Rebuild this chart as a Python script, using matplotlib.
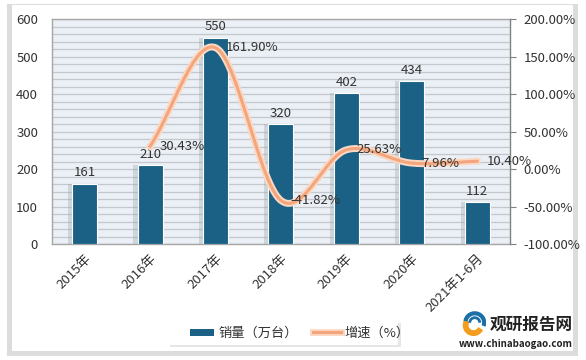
import matplotlib.pyplot as plt
import matplotlib.patheffects as pe
from matplotlib.patches import Rectangle, Wedge, Arc
import numpy as np

plt.rcParams['font.family'] = ['Noto Sans CJK SC', 'DejaVu Sans']

categories = ['2015年', '2016年', '2017年', '2018年', '2019年', '2020年', '2021年1-6月']
sales = [161, 210, 550, 320, 402, 434, 112]
growth = [None, 30.43, 161.90, -41.82, 25.63, 7.96, 10.40]
growth_labels = ['', '30.43%', '161.90%', '-41.82%', '25.63%', '7.96%', '10.40%']

bar_color = '#1b6185'
line_color = '#f3a57c'


def catmull_rom(xs, ys, n=30):
    # smooth curve through the points, like Excel's smoothed line
    xs = np.asarray(xs, float)
    ys = np.asarray(ys, float)
    px = np.concatenate([[2 * xs[0] - xs[1]], xs, [2 * xs[-1] - xs[-2]]])
    py = np.concatenate([[2 * ys[0] - ys[1]], ys, [2 * ys[-1] - ys[-2]]])
    outx, outy = [], []
    for i in range(1, len(px) - 2):
        t = np.linspace(0, 1, n)
        for arr, out in ((px, outx), (py, outy)):
            p0, p1, p2, p3 = arr[i - 1], arr[i], arr[i + 1], arr[i + 2]
            out.extend(0.5 * ((2 * p1) + (-p0 + p2) * t
                              + (2 * p0 - 5 * p1 + 4 * p2 - p3) * t ** 2
                              + (-p0 + 3 * p1 - 3 * p2 + p3) * t ** 3))
    return np.array(outx), np.array(outy)


fig = plt.figure(figsize=(5.86, 3.6), dpi=100)
fig.patch.set_facecolor('white')

# outer card with soft shadow
fig.patches.append(Rectangle((0.012, 0.01), 0.975, 0.978, transform=fig.transFigure,
                             facecolor='#dcdcdc', edgecolor='none', zorder=-2))
fig.patches.append(Rectangle((0.02, 0.025), 0.958, 0.96, transform=fig.transFigure,
                             facecolor='white', edgecolor='none', zorder=-1))

ax = fig.add_axes([0.0887, 0.322, 0.7813, 0.625])
ax.set_facecolor('#eaf0f6')
x = np.arange(len(categories))

bars = ax.bar(x, sales, width=0.38, color=bar_color, edgecolor='white', linewidth=0.8, zorder=3)
for b in bars:
    b.set_path_effects([pe.SimplePatchShadow(offset=(-3, 0), shadow_rgbFace='#9aa3ab', alpha=0.35),
                        pe.Normal()])
for xi, v in zip(x, sales):
    ax.text(xi, v + 12, str(v), ha='center', va='bottom', fontsize=9.5, color='#333333', zorder=5)

ax.set_ylim(0, 600)
ax.set_yticks(np.arange(0, 601, 100))
ax.set_yticks(np.arange(0, 601, 20), minor=True)
ax.grid(axis='y', which='both', color='#c4c8cc', linewidth=0.9, zorder=0)
ax.set_axisbelow(True)
ax.set_xlim(-0.5, len(categories) - 0.5)
ax.set_xticks(x)
ax.set_xticklabels(categories, rotation=45, ha='right', rotation_mode='anchor', fontsize=9.5, color='#333333')
ax.tick_params(axis='x', length=0, pad=6)
ax.tick_params(axis='y', which='both', length=0, labelsize=9.5, labelcolor='#333333', pad=10)
for s in ax.spines.values():
    s.set_color('#a6a6a6')
    s.set_linewidth(1)

ax2 = ax.twinx()
ax2.set_ylim(-100, 200)
ax2.set_yticks(np.arange(-100, 201, 50))
ax2.set_yticklabels(['%.2f%%' % v for v in np.arange(-100, 201, 50)])
ax2.tick_params(axis='y', length=4, color='#808080', labelsize=9.5, labelcolor='#333333', pad=6)
for s in ax2.spines.values():
    s.set_visible(False)
ax2.spines['right'].set_visible(True)
ax2.spines['right'].set_color('#808080')

gx = [xi for xi, g in zip(x, growth) if g is not None]
gy = [g for g in growth if g is not None]
sx, sy = catmull_rom(gx, gy)
ax2.plot(sx, sy, color=line_color, linewidth=2.2, zorder=4,
         path_effects=[pe.Stroke(linewidth=5, foreground='#fbd8c4'), pe.Normal()])
for xi, g, lab in zip(x, growth, growth_labels):
    if g is None:
        continue
    ax2.text(xi + 0.15, g, lab, ha='left', va='center', fontsize=9.5, color='#333333', zorder=6)

# legend box
fig.patches.append(Rectangle((0.29, 0.035), 0.395, 0.068, transform=fig.transFigure,
                             facecolor='#e6e6e6', edgecolor='none'))
fig.patches.append(Rectangle((0.287, 0.042), 0.392, 0.066, transform=fig.transFigure,
                             facecolor='white', edgecolor='none'))
fig.patches.append(Rectangle((0.324, 0.066), 0.042, 0.02, transform=fig.transFigure,
                             facecolor=bar_color, edgecolor='none'))
fig.text(0.372, 0.075, '销量（万台）', fontsize=9.5, va='center', ha='left', color='#333333')
fig.lines.append(plt.Line2D([0.534, 0.582], [0.077, 0.077], transform=fig.transFigure,
                            color=line_color, linewidth=2.2,
                            path_effects=[pe.Stroke(linewidth=5, foreground='#fbd8c4'), pe.Normal()]))
fig.text(0.588, 0.075, '增速（%）', fontsize=9.5, va='center', ha='left', color='#333333')

# watermark logo
logo = fig.add_axes([0.783, 0.065, 0.05, 0.07])
logo.set_xlim(-1, 1)
logo.set_ylim(-1, 1)
logo.set_aspect('equal')
logo.axis('off')
logo.add_patch(Wedge((0, -0.1), 0.8, 150, 330, width=0.35, color='#f39c1f'))
logo.add_patch(Arc((0.1, 0.1), 1.5, 1.5, theta1=-20, theta2=170, color='#1a6fa8', linewidth=3))
logo.add_patch(Arc((0.1, 0.1), 0.8, 0.8, theta1=0, theta2=180, color='#1a6fa8', linewidth=2))
fig.text(0.835, 0.098, '观研报告网', fontsize=12, fontweight='bold', color='#222222', va='center', ha='left')
fig.text(0.88, 0.045, 'www.chinabaogao.com', fontsize=7, fontweight='bold', color='#222222', va='center', ha='center')

fig.savefig('out.png', dpi=100)
